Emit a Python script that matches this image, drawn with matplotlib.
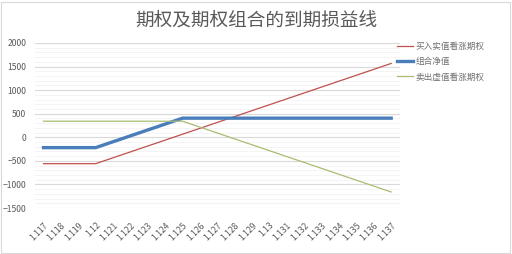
import matplotlib
matplotlib.use("Agg")
import matplotlib.pyplot as plt
from matplotlib.ticker import MultipleLocator
from matplotlib.patches import Rectangle

plt.rcParams['font.family'] = ['Noto Sans CJK SC', 'DejaVu Sans']

prices = ['1.117', '1.118', '1.119', '1.12', '1.121', '1.122', '1.123', '1.124',
          '1.125', '1.126', '1.127', '1.128', '1.129', '1.13', '1.131', '1.132',
          '1.133', '1.134', '1.135', '1.136', '1.137']
buy_call = [-560, -560, -560, -560, -435, -310, -185, -60, 65, 190, 315, 440,
            565, 690, 815, 940, 1065, 1190, 1315, 1440, 1565]
net_value = [-220, -220, -220, -220, -95, 30, 155, 280, 405, 405, 405, 405,
             405, 405, 405, 405, 405, 405, 405, 405, 405]
sell_call = [340, 340, 340, 340, 340, 340, 340, 340, 340, 215, 90, -35,
             -160, -285, -410, -535, -660, -785, -910, -1035, -1160]

fig = plt.figure(figsize=(5.12, 2.54), dpi=100)
fig.patches.append(Rectangle((0.002, 0.004), 0.994, 0.99, transform=fig.transFigure,
                             fill=False, edgecolor='#D9D9D9', linewidth=0.8))
ax = fig.add_axes([0.068, 0.181, 0.713, 0.65])

x = list(range(len(prices)))
ax.plot(x, buy_call, color='#C0504D', linewidth=0.9, label='买入实值看涨期权')
ax.plot(x, net_value, color='#4A7EBB', linewidth=2.4, label='组合净值')
ax.plot(x, sell_call, color='#A8BC74', linewidth=0.9, label='卖出虚值看涨期权')

ax.set_xlim(-0.5, len(prices) - 0.5)
ax.set_ylim(-1500, 2000)
ax.yaxis.set_major_locator(MultipleLocator(500))
ax.yaxis.set_minor_locator(MultipleLocator(100))
ax.grid(which='major', axis='y', color='#D9D9D9', linewidth=0.8)
ax.grid(which='minor', axis='y', color='#F2F2F2', linewidth=0.6)
ax.set_axisbelow(True)

ax.set_xticks(x)
ax.set_xticklabels(prices, rotation=45, ha='right', rotation_mode='anchor', fontsize=6.2, color='#595959')
ax.tick_params(axis='y', labelsize=6.2, labelcolor='#595959', length=0, pad=6)
ax.tick_params(axis='x', length=0, pad=9)
ax.tick_params(which='minor', length=0)
for s in ax.spines.values():
    s.set_visible(False)

fig.text(0.5, 0.92, '期权及期权组合的到期损益线', ha='center', va='center',
         fontsize=13.4, color='#595959')

ax.legend(loc='upper left', bbox_to_anchor=(0.97, 1.05), frameon=False, fontsize=6.2,
          labelcolor='#707070', handlelength=1.9, handletextpad=0.3, labelspacing=0.7)

fig.savefig('out.png', dpi=100)
